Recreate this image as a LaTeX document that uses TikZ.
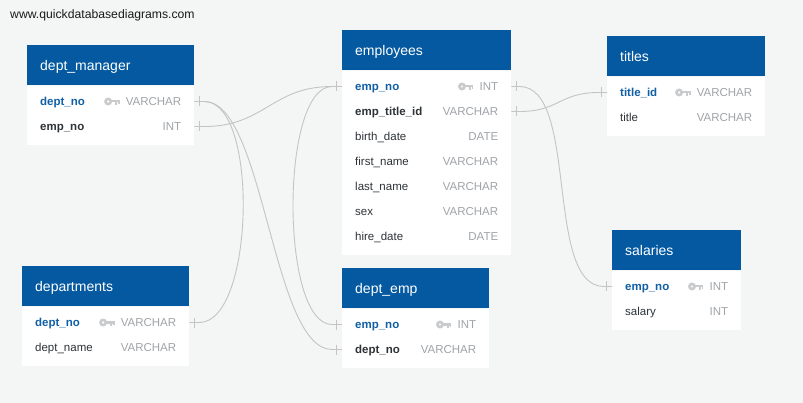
\documentclass[tikz,border=0pt]{standalone}
\usepackage{fontspec}
\setmainfont{Liberation Sans}
\definecolor{bgc}{HTML}{F4F5F5}
\definecolor{hdrblue}{HTML}{0459A0}
\definecolor{keyblue}{HTML}{1160A5}
\definecolor{darktxt}{HTML}{2E3338}
\definecolor{typegrey}{HTML}{A0A4A8}
\definecolor{keygrey}{HTML}{C9CBCD}
\definecolor{linegrey}{HTML}{C4C4C4}
\tikzset{
  hdr/.style={rectangle, fill=hdrblue, anchor=north west, minimum height=40, inner sep=0},
  hdrtxt/.style={anchor=west, inner sep=0, text=white, font=\fontsize{14}{16}\selectfont, text height=11, text depth=0},
  bodybox/.style={rectangle, fill=white, anchor=north west, inner sep=0},
  rowbox/.style={rectangle, anchor=west, minimum height=25, inner sep=0},
  fldbase/.style={anchor=west, inner sep=0, font=\fontsize{11.5}{13}\selectfont, text height=9, text depth=1},
  keyf/.style={fldbase, text=keyblue, font=\fontsize{11.5}{13}\selectfont\bfseries},
  fkf/.style={fldbase, text=darktxt, font=\fontsize{11.5}{13}\selectfont\bfseries},
  plainf/.style={fldbase, text=darktxt},
  typ/.style={anchor=east, inner sep=0, text=typegrey, font=\fontsize{11.5}{13}\selectfont, text height=9, text depth=1},
  rel/.style={draw=linegrey, line width=0.9},
  keyicon/.pic={
    \fill[keygrey, even odd rule] (-11.5,0) circle (4.0) (-11.5,0) circle (1.4);
    \fill[keygrey] (-8.5,-1.7) rectangle (0,1.0);
    \fill[keygrey] (-4.2,1.0) rectangle (-2.6,3.3);
    \fill[keygrey] (-1.6,1.0) rectangle (0,2.7);
  }
}
\newcommand\dbtbl[6]{%
  \node[hdr, minimum width=#4] (#1) at (#2,#3) {};
  \node[hdrtxt] (#1-title) at ([xshift=13]#1.west) {#6};
  \node[bodybox, minimum width=#4, minimum height={9+25*#5}] (#1-body) at (#1.south west) {};
}
\newcommand\dbrow[7]{%
  \node[rowbox, minimum width=#4] (#1) at (#2,#3) {};
  \node[#5] (#1-f) at ([xshift=13]#1.west) {#6};
  \node[typ] (#1-t) at ([xshift=-13]#1.east) {#7};
}
\newcommand\tickE[1]{\draw[rel] ([xshift=5,yshift=5]#1.east) -- ([xshift=5,yshift=-5]#1.east);}
\newcommand\tickW[1]{\draw[rel] ([xshift=-6,yshift=5]#1.west) -- ([xshift=-6,yshift=-5]#1.west);}
\begin{document}
\begin{tikzpicture}[x=1pt, y=-1pt]
\fill[bgc] (0,0) rectangle (803,403);
\useasboundingbox (0,0) rectangle (803,403);
\node[anchor=west, inner sep=0, font=\fontsize{12.2}{14}\selectfont, text=black!90] (url) at (10,15.5) {www.quickdatabasediagrams.com};

% dept_manager
\dbtbl{dm}{27}{45}{167}{2}{dept\_manager}
\dbrow{dm1}{27}{101.5}{167}{keyf}{dept\_no}{VARCHAR}
\dbrow{dm2}{27}{126.5}{167}{fkf}{emp\_no}{INT}
\pic at ([xshift=-6]dm1-t.west) {keyicon};

% employees
\dbtbl{em}{342}{30}{169}{7}{employees}
\dbrow{em1}{342}{86.5}{169}{keyf}{emp\_no}{INT}
\dbrow{em2}{342}{111.5}{169}{fkf}{emp\_title\_id}{VARCHAR}
\dbrow{em3}{342}{136.5}{169}{plainf}{birth\_date}{DATE}
\dbrow{em4}{342}{161.5}{169}{plainf}{first\_name}{VARCHAR}
\dbrow{em5}{342}{186.5}{169}{plainf}{last\_name}{VARCHAR}
\dbrow{em6}{342}{211.5}{169}{plainf}{sex}{VARCHAR}
\dbrow{em7}{342}{236.5}{169}{plainf}{hire\_date}{DATE}
\pic at ([xshift=-6]em1-t.west) {keyicon};

% titles
\dbtbl{ti}{607}{36}{158}{2}{titles}
\dbrow{ti1}{607}{92.5}{158}{keyf}{title\_id}{VARCHAR}
\dbrow{ti2}{607}{117.5}{158}{plainf}{title}{VARCHAR}
\pic at ([xshift=-6]ti1-t.west) {keyicon};

% salaries
\dbtbl{sa}{612}{230}{129}{2}{salaries}
\dbrow{sa1}{612}{286.5}{129}{keyf}{emp\_no}{INT}
\dbrow{sa2}{612}{311.5}{129}{plainf}{salary}{INT}
\pic at ([xshift=-6]sa1-t.west) {keyicon};

% departments
\dbtbl{dp}{22}{266}{167}{2}{departments}
\dbrow{dp1}{22}{322.5}{167}{keyf}{dept\_no}{VARCHAR}
\dbrow{dp2}{22}{347.5}{167}{plainf}{dept\_name}{VARCHAR}
\pic at ([xshift=-6]dp1-t.west) {keyicon};

% dept_emp
\dbtbl{de}{342}{268}{147}{2}{dept\_emp}
\dbrow{de1}{342}{324.5}{147}{keyf}{emp\_no}{INT}
\dbrow{de2}{342}{349.5}{147}{fkf}{dept\_no}{VARCHAR}
\pic at ([xshift=-6]de1-t.west) {keyicon};

% connectors
\draw[rel] (dm2.east) -- ++(10,0) .. controls +(60,0) and +(-60,0) .. ([xshift=-10]em1.west) -- (em1.west);
\draw[rel] (dm1.east) -- ++(10,0) .. controls +(55,0) and +(55,0) .. ([xshift=10]dp1.east) -- (dp1.east);
\draw[rel] (dm1.east) -- ++(10,0) .. controls +(60,0) and +(-60,0) .. ([xshift=-10]de2.west) -- (de2.west);
\draw[rel] (em1.west) -- ++(-10,0) .. controls +(-52,0) and +(-52,0) .. ([xshift=-10]de1.west) -- (de1.west);
\draw[rel] (em1.east) -- ++(8,0) .. controls +(60,0) and +(-60,0) .. ([xshift=-8]sa1.west) -- (sa1.west);
\draw[rel] (em2.east) -- ++(8,0) .. controls +(40,0) and +(-40,0) .. ([xshift=-8]ti1.west) -- (ti1.west);

\tickE{dm1}\tickE{dm2}\tickW{em1}\tickE{em1}\tickE{em2}
\tickW{ti1}\tickW{sa1}\tickE{dp1}\tickW{de1}\tickW{de2}
\end{tikzpicture}
\end{document}
